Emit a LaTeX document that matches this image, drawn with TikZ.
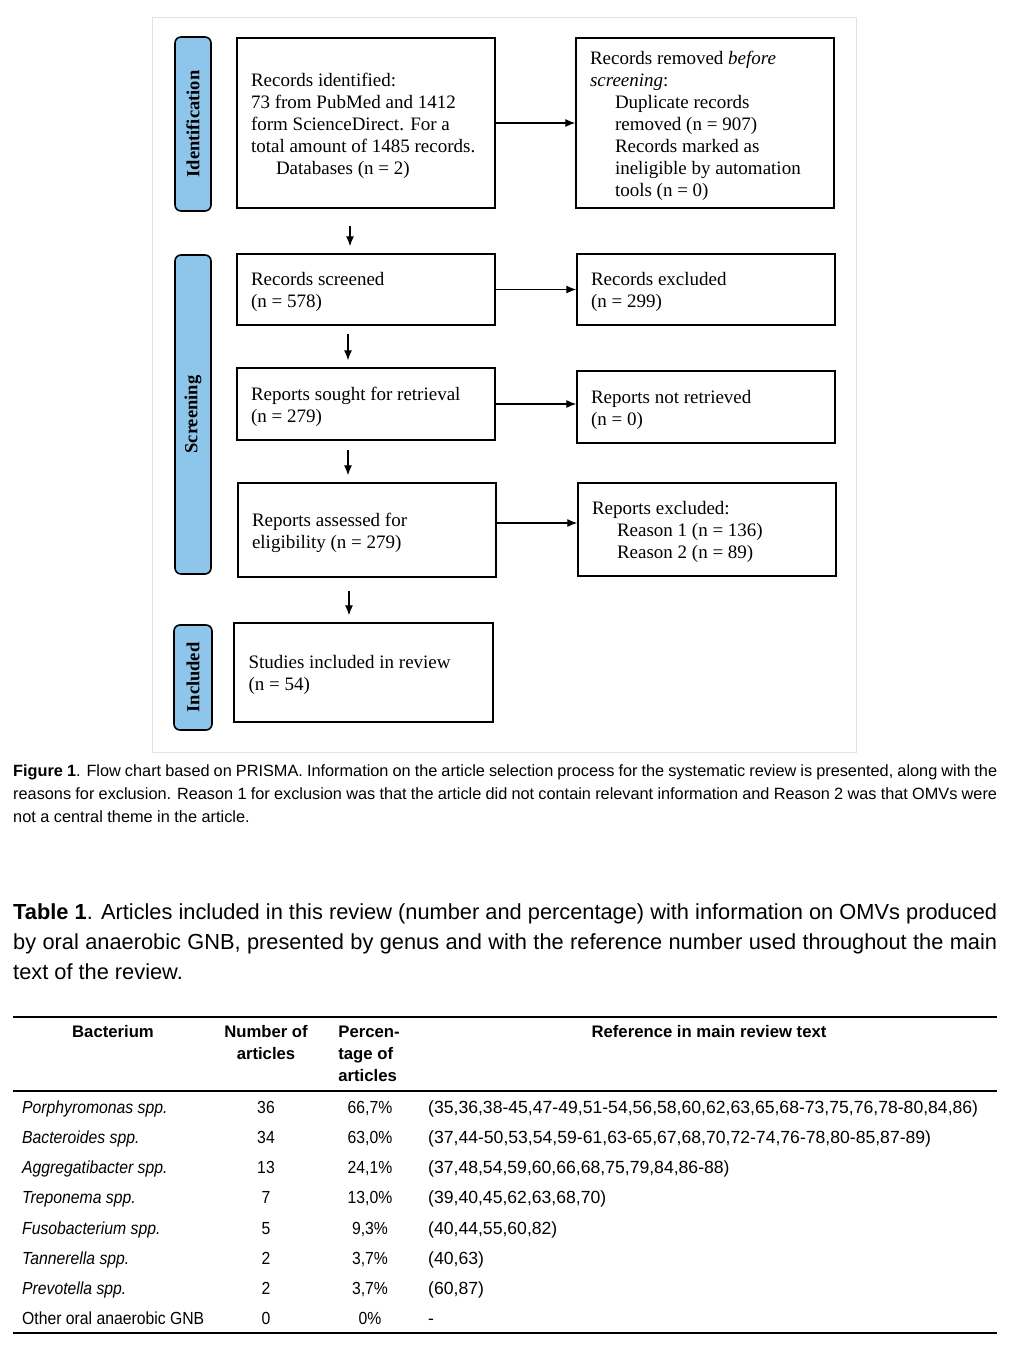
\documentclass[tikz,border=0pt]{standalone}
\usepackage{fontspec}
\setmainfont{Liberation Serif}
\newfontfamily\condsans[FakeStretch=0.9]{Liberation Sans}
\newfontfamily\plainsans{Liberation Sans}
\usepackage{tikz}
\usetikzlibrary{arrows.meta}
\usetikzlibrary{calc}
\definecolor{phaseblue}{HTML}{8EC5EA}
\definecolor{framegray}{HTML}{E2E2E2}

\begin{document}
\begin{tikzpicture}[x=1pt, y=-1pt,
every node/.style = {inner sep=0pt},
flowbox/.style = {draw, line width=1.4pt, minimum width=258pt,
  text width=230pt, inner xsep=14pt, align=flush left,
  font=\fontsize{19}{22}\selectfont,
  execute at begin node={\rule{0pt}{18.5pt}}},
phase/.style = {draw, line width=1.6pt, rounded corners=6pt, fill=phaseblue,
  rotate=90, minimum height=36pt, font=\fontsize{18.5}{22}\selectfont\bfseries},
flow/.style = {-{Latex[length=10pt,width=8pt]}, line width=1.2pt},
drop/.style = {flow, shorten <=#1, shorten >=7pt},
drop/.default = 9pt,
rule/.style = {line width=1.2pt},
head/.style = {font=\plainsans\bfseries\fontsize{16.7}{22}\selectfont},
cell/.style = {font=\condsans\fontsize{17.5}{20}\selectfont},
refcell/.style = {font=\plainsans\fontsize{17.6}{20}\selectfont}
]
\fill[white] (0,0) rectangle (1015,1355);
\useasboundingbox (0,0) rectangle (1015,1355);
\draw[framegray, line width=1pt] (152,17) rectangle (856,752);

% phases
\node[phase, minimum width=174pt] (identlab) at (193,124) {Identification};
\node[phase, minimum width=319pt] (screenlab) at (193,414.5) {Screening};
\node[phase, minimum width=105pt, minimum height=38pt] (incllab) at (193,677.5) {Included};

% boxes
\node[flowbox, minimum height=170pt] (ident) at (366,123)
  {Records identified:\\73 from PubMed and 1412\\form ScienceDirect. For a\\total amount of 1485 records.\\\hspace*{25pt}Databases (n = 2)};
\node[flowbox, minimum height=170pt] (removed) at (705,123)
  {Records removed \textit{before}\\\textit{screening}:\\\hspace*{25pt}Duplicate records\\\hspace*{25pt}removed (n = 907)\\\hspace*{25pt}Records marked as\\\hspace*{25pt}ineligible by automation\\\hspace*{25pt}tools (n = 0)};
\node[flowbox, minimum height=71pt] (screened) at (366,289.5) {Records screened\\(n = 578)};
\node[flowbox, minimum height=71pt] (excluded) at (706,289.5) {Records excluded\\(n = 299)};
\node[flowbox, minimum height=72pt] (sought) at (366,404) {Reports sought for retrieval\\(n = 279)};
\node[flowbox, minimum height=72pt] (notretr) at (706,407) {Reports not retrieved\\(n = 0)};
\node[flowbox, minimum height=94pt] (assessed) at (367,530) {Reports assessed for\\eligibility (n = 279)};
\node[flowbox, minimum height=93pt] (repexcl) at (707,529.5)
  {Reports excluded:\\\hspace*{25pt}Reason 1 (n = 136)\\\hspace*{25pt}Reason 2 (n = 89)};
\node[flowbox, minimum height=99pt, minimum width=259pt, inner xsep=14.5pt] (included) at (363.5,672.5)
  {Studies included in review\\(n = 54)};

% arrows
\draw[flow] (ident) -- (removed);
\draw[flow] (screened) -- (excluded);
\draw[flow] (sought.east) -- (sought.east -| notretr.west);
\draw[flow] ([yshift=7pt]assessed.east) -- ([yshift=7pt]assessed.east -| repexcl.west);
\draw[drop=17pt] ([xshift=-16pt]ident.south) -- ([xshift=-16pt]ident.south |- screened.north);
\draw[drop=8pt] ([xshift=-18pt]screened.south) -- ([xshift=-18pt]screened.south |- sought.north);
\draw[drop] ([xshift=-18pt]sought.south) -- ([xshift=-18pt]sought.south |- assessed.north);
\draw[drop=13pt] ([xshift=-18pt]assessed.south) -- ([xshift=-18pt]assessed.south |- included.north);

% captions
\node[anchor=north west, text width=984pt, align=justify,
  font=\plainsans\fontsize{16.3}{23}\selectfont] (figcap) at (13,764)
  {\textbf{Figure 1}. Flow chart based on PRISMA. Information on the article selection process for the systematic review is presented, along with the\linebreak reasons for exclusion. Reason 1 for exclusion was that the article did not contain relevant information and Reason 2 was that OMVs were\linebreak not a central theme in the article.};
\node[anchor=north west, text width=984pt, align=justify,
  font=\plainsans\fontsize{21.8}{30}\selectfont] (tabcap) at (13,903)
  {\textbf{Table 1}. Articles included in this review (number and percentage) with information on OMVs produced\linebreak by oral anaerobic GNB, presented by genus and with the reference number used throughout the main\linebreak text of the review.};

% table
\draw[rule] (13,1017) -- (997,1017);
\draw[rule] (13,1091) -- (997,1091);
\draw[rule] (13,1333) -- (997,1333);
\node[head] (hbact) at (113,1032) {Bacterium};
\node[head, align=center] (hnum) at (266,1043) {Number of\\articles};
\node[head, align=flush left] (hpct) at (369,1054) {Percen-\\tage of\\articles};
\node[head] (href) at (709,1032) {Reference in main review text};
\foreach \bact/\num/\pct/\refs [count=\i from 0] in {
  {\textit{Porphyromonas spp.}}/36/{66,7\%}/{(35,36,38-45,47-49,51-54,56,58,60,62,63,65,68-73,75,76,78-80,84,86)},
  {\textit{Bacteroides spp.}}/34/{63,0\%}/{(37,44-50,53,54,59-61,63-65,67,68,70,72-74,76-78,80-85,87-89)},
  {\textit{Aggregatibacter spp.}}/13/{24,1\%}/{(37,48,54,59,60,66,68,75,79,84,86-88)},
  {\textit{Treponema spp.}}/7/{13,0\%}/{(39,40,45,62,63,68,70)},
  {\textit{Fusobacterium spp.}}/5/{9,3\%}/{(40,44,55,60,82)},
  {\textit{Tannerella spp.}}/2/{3,7\%}/{(40,63)},
  {\textit{Prevotella spp.}}/2/{3,7\%}/{(60,87)},
  {Other oral anaerobic GNB}/0/{0\%}/{-}} {
  \pgfmathsetmacro\ry{1113.5+30.15*\i}
  \node[cell, anchor=base west] (bact\i) at (22,\ry) {\bact};
  \node[cell, anchor=base] (num\i) at (266,\ry) {\num};
  \node[cell, anchor=base] (pct\i) at (370,\ry) {\pct};
  \node[refcell, anchor=base west] (refs\i) at (428,\ry) {\refs};
}
\end{tikzpicture}
\end{document}
